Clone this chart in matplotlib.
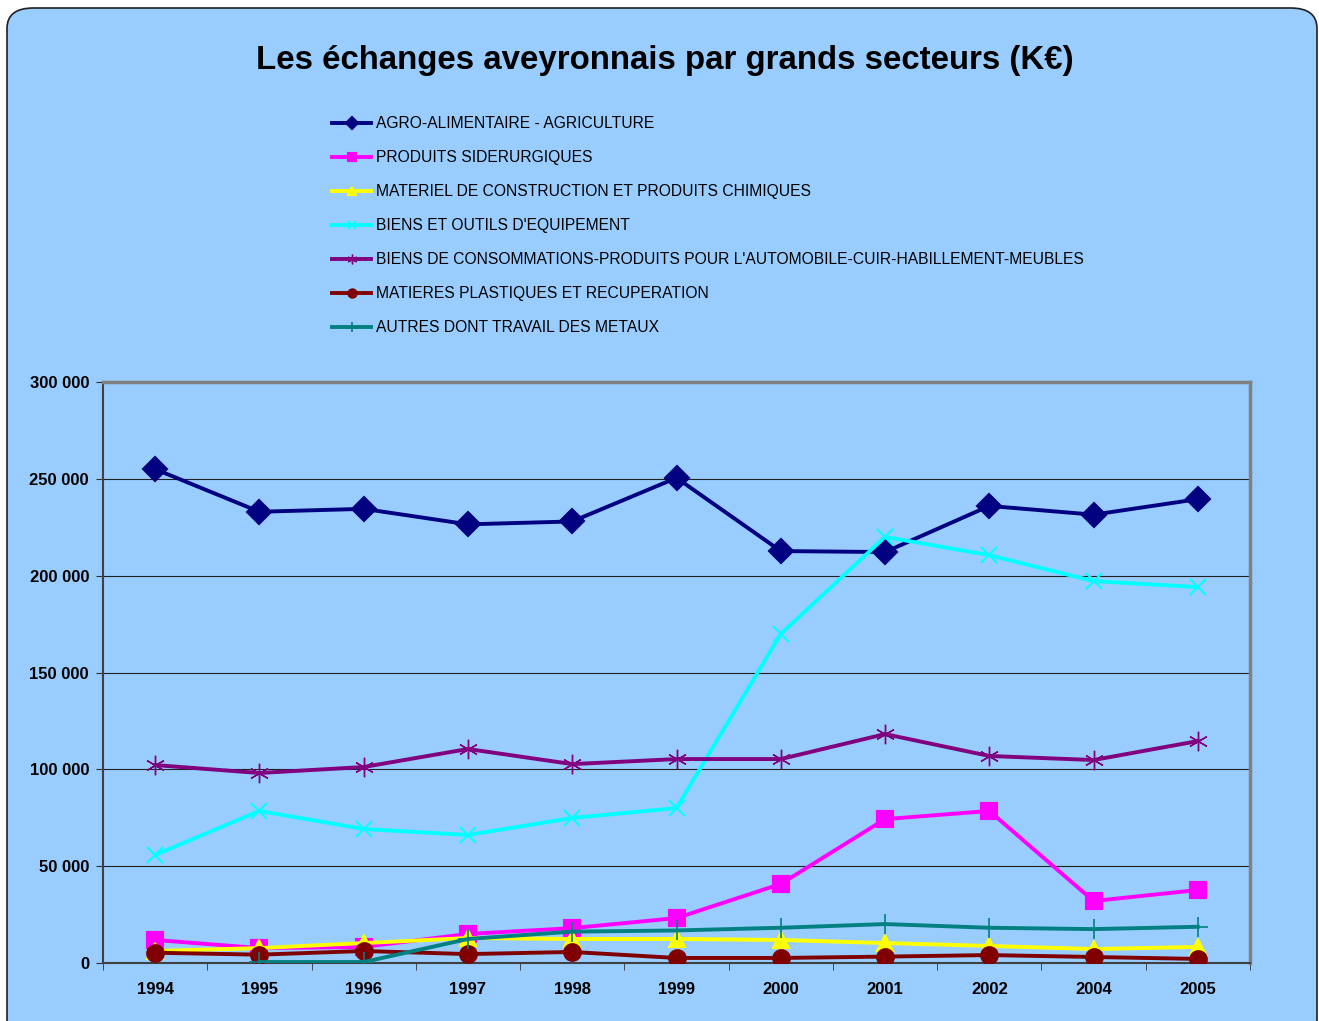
import numpy as np
import matplotlib.pyplot as plt
from matplotlib.patches import FancyBboxPatch

plt.rcParams['font.family'] = ['Liberation Sans', 'DejaVu Sans']

# Donnees (K€)
annees = ['1994', '1995', '1996', '1997', '1998', '1999', '2000', '2001', '2002', '2004', '2005']

agro = [255000, 233000, 234500, 226500, 228000, 250500, 212700, 212200, 236000, 231500, 239500]
siderurgie = [11900, 7700, 8300, 15000, 18000, 23200, 40800, 74300, 78500, 32000, 37700]
construction = [6200, 7700, 10300, 12900, 12400, 12400, 11900, 10300, 8800, 7200, 8300]
equipement = [55800, 78500, 69200, 66100, 74900, 80000, 169900, 220000, 210600, 197200, 194100]
consommation = [102200, 98100, 101200, 110500, 102700, 105300, 105300, 118200, 106900, 104800, 114600]
plastiques = [5300, 4300, 6200, 4600, 5700, 2600, 2600, 3300, 4100, 3100, 2100]
autres = [np.nan, 500, 500, 12400, 16200, 16800, 18200, 20100, 18200, 17500, 18700]

# nom, valeurs, couleur, marqueur, taille, epaisseur du bord
series = [
    ('AGRO-ALIMENTAIRE - AGRICULTURE', agro, '#000080', 'D', 12, 1.5),
    ('PRODUITS SIDERURGIQUES', siderurgie, '#FF00FF', 's', 12, 1.5),
    ('MATERIEL DE CONSTRUCTION ET PRODUITS CHIMIQUES', construction, '#FFFF00', '^', 12, 1.5),
    ("BIENS ET OUTILS D'EQUIPEMENT", equipement, '#00FFFF', 'x', 12, 1.5),
    ("BIENS DE CONSOMMATIONS-PRODUITS POUR L'AUTOMOBILE-CUIR-HABILLEMENT-MEUBLES",
     consommation, '#800080', (6, 2, 0), 14, 1.0),
    ('MATIERES PLASTIQUES ET RECUPERATION', plastiques, '#800000', 'o', 12, 1.5),
    ('AUTRES DONT TRAVAIL DES METAUX', autres, '#008080', '+', 15, 1.2),
]

W, H = 1319, 1021
fig = plt.figure(figsize=(W / 100, H / 100), dpi=100, facecolor='white')

fond = FancyBboxPatch((7 / W, -0.02), (1310) / W, 1 - 8 / H + 0.02,
                      boxstyle='round,pad=0,rounding_size=0.02',
                      transform=fig.transFigure, facecolor='#99CCFF',
                      edgecolor='#202020', linewidth=1.2, zorder=-10)
fig.patches.append(fond)

ax = fig.add_axes([103 / W, 1 - 963 / H, (1250 - 103) / W, (963 - 382) / H])
ax.set_zorder(1)
ax.set_facecolor('#99CCFF')

x = np.arange(len(annees))
handles = []
for nom, vals, coul, mk, ms, mew in series:
    l, = ax.plot(x, vals, color=coul, linewidth=2.8, marker=mk, markersize=ms,
                 markerfacecolor=coul, markeredgecolor=coul, markeredgewidth=mew,
                 label=nom, zorder=3)
    handles.append(l)

ax.set_xlim(-0.5, len(annees) - 0.5)
ax.set_ylim(0, 300000)
ax.set_yticks(np.arange(0, 300001, 50000))
ax.set_yticklabels(['0', '50 000', '100 000', '150 000', '200 000', '250 000', '300 000'],
                   fontsize=12, fontweight='bold')
ax.set_xticks(x)
ax.set_xticklabels(annees, fontsize=12, fontweight='bold')
ax.set_xticks(np.arange(-0.5, len(annees)), minor=True)
ax.tick_params(axis='x', which='major', length=0, pad=14)
ax.tick_params(axis='x', which='minor', length=5, direction='out', color='#303030')
ax.tick_params(axis='y', length=5, direction='out', color='#303030', pad=5)
ax.grid(axis='y', color='#202020', linewidth=0.8, zorder=1)
ax.set_axisbelow(True)

for s in ['top', 'right']:
    ax.spines[s].set_color('#808080')
    ax.spines[s].set_linewidth(2.5)
for s in ['left', 'bottom']:
    ax.spines[s].set_color('#404040')
    ax.spines[s].set_linewidth(1.5)

fig.text(665 / W, 1 - 60 / H, 'Les échanges aveyronnais par grands secteurs (K€)',
         ha='center', va='center', fontsize=23.8, fontweight='bold')

leg = fig.legend(handles=handles, loc='upper left', bbox_to_anchor=(318 / W, 1 - 102 / H),
                 frameon=False, fontsize=11.25, handlelength=2.5, handletextpad=0.3,
                 labelspacing=1.22, markerscale=0.5)

plt.savefig('out.png', dpi=100, facecolor='white')
